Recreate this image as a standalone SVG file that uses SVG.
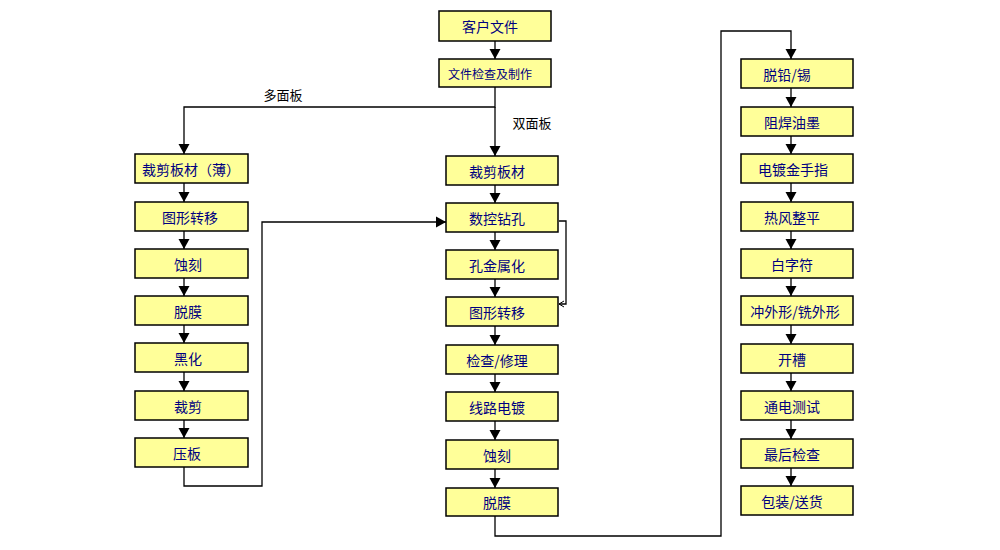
<svg xmlns="http://www.w3.org/2000/svg" width="1000" height="550" viewBox="0 0 1000 550">
<style>
.box rect{fill:#FFFF99;stroke:#000;stroke-width:1.5}
.box text{font-family:"Noto Sans CJK SC","Liberation Sans",sans-serif;font-size:14px;fill:#000080;text-anchor:middle;dominant-baseline:central}
.lbl{font-family:"Noto Sans CJK SC","Liberation Sans",sans-serif;font-size:13px;fill:#000;text-anchor:middle;dominant-baseline:central}
.c path{fill:none;stroke:#000;stroke-width:1.3}
</style>
<defs>
<marker id="ah" markerUnits="userSpaceOnUse" markerWidth="14" markerHeight="14" viewBox="-12 -7 14 14" refX="0" refY="0" orient="auto">
<polygon points="-10,-5.5 0,0 -10,5.5" fill="#000"/>
</marker>
<marker id="ao" markerUnits="userSpaceOnUse" markerWidth="10" markerHeight="10" viewBox="-7 -5 9 10" refX="0" refY="0" orient="auto">
<polyline points="-5,-3 0,0 -5,3" fill="none" stroke="#000" stroke-width="1"/>
</marker>
</defs>
<rect width="1000" height="550" fill="#fff"/>
<g class="c" id="connectors">
<path d="M495,41 V59" marker-end="url(#ah)"/>
<path d="M495,87 V107 H184 V154" marker-end="url(#ah)"/>
<path d="M495,107 V156" marker-end="url(#ah)"/>
<path d="M184,183 V202" marker-end="url(#ah)"/>
<path d="M184,231 V249" marker-end="url(#ah)"/>
<path d="M184,278 V296" marker-end="url(#ah)"/>
<path d="M184,325 V343" marker-end="url(#ah)"/>
<path d="M184,372 V391" marker-end="url(#ah)"/>
<path d="M184,420 V438" marker-end="url(#ah)"/>
<path d="M184,467 V486 H262 V222 H446" marker-end="url(#ah)"/>
<path d="M495,185 V203" marker-end="url(#ah)"/>
<path d="M495,232 V250" marker-end="url(#ah)"/>
<path d="M495,279 V297" marker-end="url(#ah)"/>
<path d="M495,326 V345" marker-end="url(#ah)"/>
<path d="M495,374 V392" marker-end="url(#ah)"/>
<path d="M495,421 V440" marker-end="url(#ah)"/>
<path d="M495,469 V488" marker-end="url(#ah)"/>
<path d="M559,221 H566 V304 H559" stroke-width="1" marker-end="url(#ao)"/>
<path d="M495,516 V536 H721 V31 H791 V59" marker-end="url(#ah)"/>
<path d="M791,88 V107" marker-end="url(#ah)"/>
<path d="M791,136 V154" marker-end="url(#ah)"/>
<path d="M791,183 V202" marker-end="url(#ah)"/>
<path d="M791,231 V249" marker-end="url(#ah)"/>
<path d="M791,278 V296" marker-end="url(#ah)"/>
<path d="M791,325 V344" marker-end="url(#ah)"/>
<path d="M791,373 V391" marker-end="url(#ah)"/>
<path d="M791,420 V439" marker-end="url(#ah)"/>
<path d="M791,468 V486" marker-end="url(#ah)"/>
</g>
<text class="lbl" x="283" y="94">多面板</text>
<text class="lbl" x="532" y="122">双面板</text>
<g class="box" id="n_kehu"><rect x="439" y="11" width="112" height="30"/><text x="490" y="26">客户文件</text></g>
<g class="box" id="n_wenjian"><rect x="439" y="59" width="112" height="28"/><text x="490" y="73" style="font-size:12px">文件检查及制作</text></g>
<g class="box" id="l1"><rect x="135" y="154" width="113" height="29"/><text x="191" y="168.5">裁剪板材（薄）</text></g>
<g class="box" id="l2"><rect x="135" y="202" width="113" height="29"/><text x="190" y="216.5">图形转移</text></g>
<g class="box" id="l3"><rect x="135" y="249" width="113" height="29"/><text x="188" y="263.5">蚀刻</text></g>
<g class="box" id="l4"><rect x="135" y="296" width="113" height="29"/><text x="188" y="310.5">脱膜</text></g>
<g class="box" id="l5"><rect x="135" y="343" width="113" height="29"/><text x="188" y="357.5">黑化</text></g>
<g class="box" id="l6"><rect x="135" y="391" width="113" height="29"/><text x="188" y="405.5">裁剪</text></g>
<g class="box" id="l7"><rect x="135" y="438" width="113" height="29"/><text x="187" y="452.5">压板</text></g>
<g class="box" id="m1"><rect x="446" y="156" width="112" height="29"/><text x="497" y="170.5">裁剪板材</text></g>
<g class="box" id="m2"><rect x="446" y="203" width="112" height="29"/><text x="497" y="217.5">数控钻孔</text></g>
<g class="box" id="m3"><rect x="446" y="250" width="112" height="29"/><text x="497" y="264.5">孔金属化</text></g>
<g class="box" id="m4"><rect x="446" y="297" width="112" height="29"/><text x="497" y="311.5">图形转移</text></g>
<g class="box" id="m5"><rect x="446" y="345" width="112" height="29"/><text x="497" y="359.5">检查/修理</text></g>
<g class="box" id="m6"><rect x="446" y="392" width="112" height="29"/><text x="497" y="406.5">线路电镀</text></g>
<g class="box" id="m7"><rect x="446" y="440" width="112" height="29"/><text x="497" y="454.5">蚀刻</text></g>
<g class="box" id="m8"><rect x="446" y="488" width="112" height="28"/><text x="497" y="502">脱膜</text></g>
<g class="box" id="r1"><rect x="741" y="59" width="112" height="29"/><text x="787" y="73.5">脱铅/锡</text></g>
<g class="box" id="r2"><rect x="741" y="107" width="112" height="29"/><text x="792" y="121.5">阻焊油墨</text></g>
<g class="box" id="r3"><rect x="741" y="154" width="112" height="29"/><text x="793" y="168.5">电镀金手指</text></g>
<g class="box" id="r4"><rect x="741" y="202" width="112" height="29"/><text x="792" y="216.5">热风整平</text></g>
<g class="box" id="r5"><rect x="741" y="249" width="112" height="29"/><text x="792" y="263.5">白字符</text></g>
<g class="box" id="r6"><rect x="741" y="296" width="112" height="29"/><text x="795" y="310.5">冲外形/铣外形</text></g>
<g class="box" id="r7"><rect x="741" y="344" width="112" height="29"/><text x="792" y="358.5">开槽</text></g>
<g class="box" id="r8"><rect x="741" y="391" width="112" height="29"/><text x="792" y="405.5">通电测试</text></g>
<g class="box" id="r9"><rect x="741" y="439" width="112" height="29"/><text x="792" y="453.5">最后检查</text></g>
<g class="box" id="r10"><rect x="741" y="486" width="112" height="29"/><text x="792" y="500.5">包装/送货</text></g>
</svg>
